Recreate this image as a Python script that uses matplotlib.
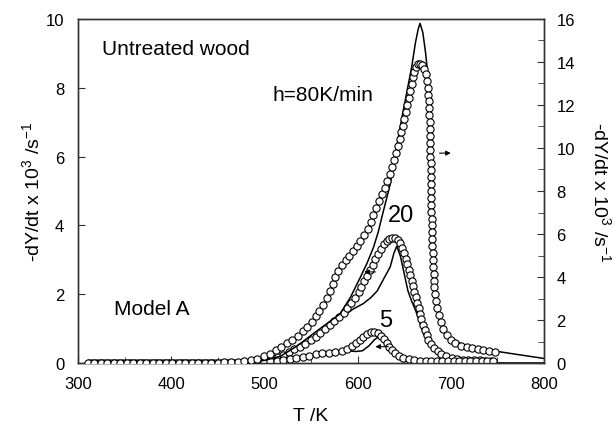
import numpy as np
import matplotlib.pyplot as plt
from matplotlib.ticker import MultipleLocator

plt.rcParams['font.family'] = ['Liberation Sans', 'DejaVu Sans']
plt.rcParams['mathtext.fontset'] = 'custom'
plt.rcParams['mathtext.rm'] = 'Liberation Sans'

# --- h = 80 K/min (right axis) ---
t80_exp = [310, 317, 324, 331, 338, 345, 352, 359, 366, 373, 380, 387, 394, 401, 408,
           415, 422, 429, 436, 443, 450, 457, 464, 471, 478,
           485, 492, 499, 506, 512, 518, 524, 530, 536, 541, 546, 551, 555, 559, 563,
           567, 570, 573, 576, 579, 583, 587, 591, 595, 599, 603, 607, 611, 614, 617,
           620, 623, 626, 629, 632, 635, 637, 639, 641, 643, 645, 647, 649, 650, 652,
           653, 655, 656, 658, 659, 661, 663, 665, 667, 669, 671, 673, 674, 675, 676,
           676.5, 677, 677, 677.5, 677.5, 678, 678, 678, 678, 678.5, 678.5, 678.5, 678.5,
           679, 679, 679, 679, 679.5, 679.5, 679.5, 680, 680, 680.5, 680.5, 681, 681.5,
           682, 682.5, 683, 684, 685.5, 687, 689, 692, 696, 700, 705, 711, 717, 723,
           729, 735, 741, 747]
y80_exp = [0.03] * 21 + [0.04, 0.05, 0.07, 0.1,
           0.13, 0.21, 0.32, 0.45, 0.61, 0.77, 0.93, 1.09, 1.28, 1.49, 1.70, 1.92, 2.18,
           2.43, 2.72, 3.04, 3.36, 3.68, 4.0, 4.29, 4.56, 4.8, 4.99, 5.2, 5.44, 5.68,
           5.95, 6.24, 6.56, 6.88, 7.2, 7.52, 7.84, 8.16, 8.48, 8.8, 9.12, 9.44, 9.76,
           10.08, 10.4, 10.72, 11.04, 11.36, 11.68, 12.0, 12.32, 12.64, 12.96, 13.28,
           13.52, 13.76, 13.89, 13.92, 13.84, 13.68, 13.44, 13.12, 12.8, 12.48, 12.16,
           11.84, 11.52, 11.2, 10.88, 10.56, 10.24, 9.92, 9.6, 9.28, 8.96, 8.64, 8.32,
           8.0, 7.68, 7.36, 7.04, 6.72, 6.4, 6.08, 5.76, 5.44, 5.12, 4.8, 4.48, 4.16,
           3.84, 3.52, 3.2, 2.88, 2.56, 2.24, 1.92, 1.6, 1.31, 1.09, 0.93, 0.82, 0.75,
           0.69, 0.64, 0.59, 0.56, 0.53]
t80_mod = [310, 450, 480, 500, 517, 535, 552, 567, 581, 592, 603, 610, 617, 622, 627,
           635, 642, 648, 653, 658, 662, 665, 667, 670, 673, 676, 678, 679.5, 680.5,
           681, 681.5, 682.5, 684, 686, 688, 692, 697, 702, 710, 720, 731, 745, 760,
           780, 800]
y80_mod = [0.0, 0.0, 0.03, 0.13, 0.32, 0.8, 1.36, 1.84, 2.29, 3.04, 4.0, 4.64, 5.38,
           6.08, 6.96, 8.32, 10.08, 11.52, 12.64, 13.76, 14.88, 15.52, 15.79, 15.36,
           14.4, 13.12, 11.84, 9.6, 8.0, 6.4, 4.8, 3.84, 3.04, 2.4, 1.97, 1.52, 1.28,
           1.12, 0.93, 0.77, 0.67, 0.58, 0.48, 0.35, 0.22]

# --- h = 20 K/min (left axis) ---
t20_exp = [312, 319, 326, 333, 340, 347, 354, 361, 368, 375, 382, 389, 396, 403, 410,
           417, 424, 431, 438, 445, 452, 459, 466, 473, 480,
           487, 494, 501, 508, 514, 520, 526, 532, 538, 544, 550, 555, 560, 565, 570,
           575, 580, 585, 589, 593, 597, 601, 604, 607, 610, 613, 616, 619, 622, 625,
           628, 631, 634, 637, 640, 643, 646, 648, 650, 652, 653.5, 655, 656.5, 658,
           659.5, 661, 662.5, 664, 665.5, 667, 668.5, 670, 672, 674, 676, 679, 682, 686,
           690, 695, 701, 707, 713, 719, 725, 731, 737, 743]
y20_exp = [0.02] * 25 + [0.04, 0.07, 0.1, 0.14, 0.19, 0.25, 0.32, 0.4, 0.48, 0.57,
           0.67, 0.77, 0.88, 0.99, 1.1, 1.22, 1.35, 1.47, 1.6, 1.75, 1.9, 2.06, 2.22,
           2.38, 2.54, 2.7, 2.86, 3.02, 3.17, 3.32, 3.45, 3.55, 3.62, 3.65, 3.63, 3.58,
           3.48, 3.35, 3.2, 3.04, 2.88, 2.72, 2.56, 2.4, 2.24, 2.08, 1.92, 1.76, 1.6,
           1.44, 1.28, 1.12, 0.97, 0.82, 0.68, 0.55, 0.44, 0.34, 0.26, 0.2, 0.15, 0.12,
           0.1, 0.09, 0.08, 0.08, 0.07, 0.07]
t20_mod = [310, 470, 490, 510, 530, 552, 567, 581, 595, 606, 614, 621, 628, 635, 639,
           642, 646, 650, 654, 658, 662, 666, 670, 675, 681, 688, 700, 713, 730, 760, 800]
y20_mod = [0.0, 0.0, 0.03, 0.1, 0.3, 0.64, 0.95, 1.3, 1.57, 1.73, 1.9, 2.1, 2.45, 2.8,
           3.2, 3.4, 3.1, 2.6, 2.1, 1.8, 1.55, 1.25, 0.9, 0.6, 0.38, 0.24, 0.12, 0.05,
           0.02, 0.0, 0.0]

# --- h = 5 K/min (left axis) ---
t5_exp = [315, 322, 329, 336, 343, 350, 357, 364, 371, 378, 385, 392, 399, 406, 413,
          420, 427, 434, 441, 448, 455, 462, 469, 476, 485,
          492, 499, 506, 513, 520, 527, 534, 541, 548, 555, 562, 569, 576, 583, 589,
          594, 598, 602, 606, 610, 614, 618, 622, 625, 628, 631, 634, 637, 640, 644,
          649, 655, 661, 667, 673, 679, 685, 691, 697, 703, 709, 715, 721, 727, 733,
          739, 745]
y5_exp = [0.02] * 25 + [0.03, 0.04, 0.05, 0.07, 0.09, 0.12, 0.15, 0.19, 0.22, 0.26,
          0.29, 0.31, 0.33, 0.36, 0.42, 0.5, 0.59, 0.68, 0.77, 0.85, 0.9, 0.92, 0.88,
          0.8, 0.7, 0.59, 0.48, 0.38, 0.29, 0.21, 0.15, 0.11, 0.08, 0.07, 0.06, 0.05,
          0.05, 0.05, 0.05, 0.05, 0.05, 0.05, 0.05, 0.05, 0.05, 0.05, 0.05]
t5_mod = [310, 480, 500, 520, 540, 560, 575, 589, 598, 605, 612, 618, 623, 627, 631,
          635, 639, 643, 648, 655, 665, 700, 800]
y5_mod = [0.0, 0.0, 0.02, 0.06, 0.14, 0.25, 0.32, 0.36, 0.34, 0.36, 0.5, 0.68, 0.78,
          0.8, 0.72, 0.55, 0.38, 0.22, 0.1, 0.04, 0.01, 0.0, 0.0]

fig = plt.figure(figsize=(6.16, 4.31), dpi=100)
ax = fig.add_axes([0.127, 0.155, 0.756, 0.799])
ax2 = ax.twinx()

circ = dict(ls='none', marker='o', ms=5.2, mfc='white', mec='black', mew=0.8)
ax.plot(t20_mod, y20_mod, color='black', lw=1.1, zorder=2)
ax.plot(t5_mod, y5_mod, color='black', lw=1.1, zorder=2)
ax.plot(t20_exp, y20_exp, zorder=3, **circ)
ax.plot(t5_exp, y5_exp, zorder=3, **circ)
ax2.plot(t80_mod, y80_mod, color='black', lw=1.1, zorder=2)
ax2.plot(t80_exp, y80_exp, zorder=3, **circ)

ax.set_xlim(300, 800)
ax.set_ylim(0, 10)
ax2.set_ylim(0, 16)
ax.xaxis.set_major_locator(MultipleLocator(100))
ax.xaxis.set_minor_locator(MultipleLocator(50))
ax.yaxis.set_major_locator(MultipleLocator(2))
ax2.yaxis.set_major_locator(MultipleLocator(2))
ax2.yaxis.set_minor_locator(MultipleLocator(1))
ax.tick_params(direction='in', labelsize=12, length=5, color='#333333')
ax.tick_params(axis='x', pad=9)
ax.tick_params(axis='y', pad=10)
ax.tick_params(which='minor', direction='in', length=4, color='#333333')
ax2.tick_params(direction='in', labelsize=12, length=5, color='#333333', pad=9)
ax2.tick_params(which='minor', direction='in', length=4, color='#333333')
for a in (ax, ax2):
    for s in a.spines.values():
        s.set_color('#333333')
        s.set_linewidth(1.0)

ax.set_xlabel('T /K', fontsize=14, labelpad=12)
ax.set_ylabel(r'-dY/dt x 10$^3$ /s$^{\mathrm{-}1}$', fontsize=14, labelpad=1)
ax2.set_ylabel(r'-dY/dt x 10$^3$ /s$^{\mathrm{-}1}$', fontsize=14, rotation=-90,
               labelpad=26)

ax.text(325, 9.15, 'Untreated wood', fontsize=15, va='center')
ax.text(509, 7.8, 'h=80K/min', fontsize=15, va='center')
ax.text(647, 4.3, '20', fontsize=17, ha='center', va='center')
ax.text(630, 1.25, '5', fontsize=17, ha='center', va='center')
ax.text(338, 1.6, 'Model A', fontsize=15, va='center')

arr = dict(arrowstyle='-|>', color='black', lw=0.8, mutation_scale=7)
ax.annotate('', xy=(703, 6.1), xytext=(685, 6.1), arrowprops=arr)
ax.annotate('', xy=(604, 2.65), xytext=(622, 2.65), arrowprops=arr)
ax.annotate('', xy=(616, 0.48), xytext=(636, 0.48), arrowprops=arr)

fig.savefig('out.png', dpi=100)
